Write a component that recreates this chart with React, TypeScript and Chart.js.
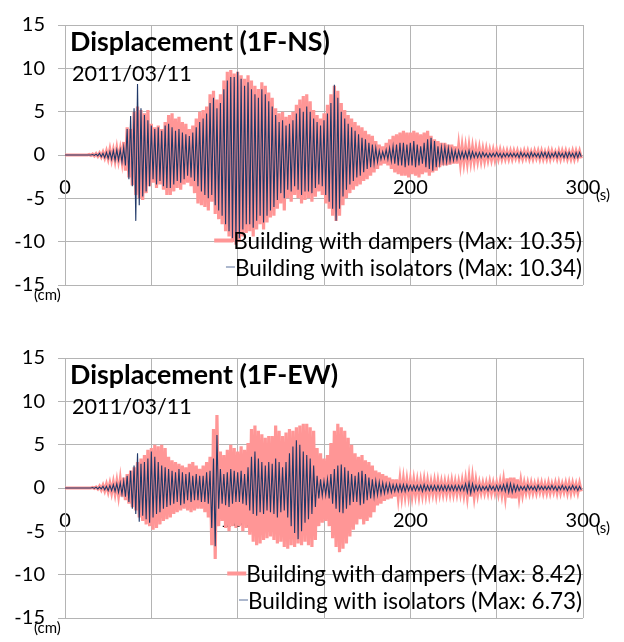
import { useEffect, useRef } from 'react';
import { Chart, registerables } from 'chart.js';

Chart.register(...registerables);

const FONT = 'Lato, "Open Sans", sans-serif';

// Axis ranges and labels
const timeMin = 0;
const timeMax = 300;
const timeGridStep = 50;
const timeLabelStep = 100;
const dispMin = -15;
const dispMax = 15;
const dispStep = 5;
const recordDate = '2011/03/11';

// Peak values of each record (cm)
const nsDamperMax = 10.35;
const nsIsolatorMax = 10.34;
const ewDamperMax = 8.42;
const ewIsolatorMax = 6.73;

// Response peaks in cm: positive peaks at t = 0, 2, 4 ... s, negative peaks at t = 1, 3, 5 ... s
const nsDamperPeaks = [
  0, 0, 0, 0, 0, 0, 0, 0.05, 0.1, 0.15,
  0.2, 0.3, 0.4, 0.6, 0.5, 0.7, 0.6, 1.5, 3.2, 3.0,
  5.0, 5.6, 5.2, 4.8, 5.2, 3.6, 3.2, 3.4, 3.0, 3.8,
  4.6, 4.8, 4.2, 4.4, 3.8, 3.6, 3.0, 3.4, 4.2, 5.0,
  5.2, 5.6, 7.0, 7.4, 6.4, 7.0, 8.6, 9.6, 9.8, 9.4,
  9.6, 9.2, 8.8, 9.2, 8.6, 8.0, 7.6, 8.4, 8.0, 7.2,
  6.6, 5.4, 4.8, 5.0, 4.4, 4.6, 5.0, 5.8, 6.4, 6.8,
  7.0, 6.2, 5.2, 4.6, 4.2, 4.8, 5.8, 7.0, 8.0, 7.4,
  6.0, 5.2, 4.6, 4.2, 3.8, 3.4, 3.2, 2.8, 2.4, 2.2,
  1.6, 1.2, 1.0, 1.4, 1.8, 2.2, 2.4, 2.6, 2.8, 2.6,
  2.6, 2.8, 2.6, 2.4, 2.6, 2.8, 2.2, 1.8, 1.6, 1.4,
  1.4, 1.2, 1.2, 1.0, 1.0, 0.9, 0.8, 0.9, 0.8, 0.7,
  0.7, 0.6, 0.6, 0.5, 0.5, 0.5, 0.5, 0.4, 0.4, 0.4,
  0.4, 0.4, 0.3, 0.4, 0.4, 0.3, 0.4, 0.4, 0.4, 0.3,
  0.4, 0.4, 0.3, 0.4, 0.4, 0.4, 0.3, 0.4, 0.4, 0.4,
];
const nsDamperTroughs = [
  0, 0, 0, 0, 0, 0, 0, -0.05, -0.1, -0.15,
  -0.2, -0.3, -0.4, -0.5, -0.6, -0.6, -0.7, -1.8, -2.6, -3.5,
  -4.6, -5.0, -5.2, -4.4, -3.6, -3.2, -3.8, -3.4, -4.0, -4.6,
  -4.6, -4.2, -3.8, -4.0, -3.4, -3.2, -3.6, -4.4, -5.6, -5.8,
  -6.0, -6.4, -5.4, -6.8, -7.4, -8.0, -8.8, -9.4, -10.0, -nsDamperMax,
  -10.0, -9.4, -9.0, -8.8, -9.4, -8.6, -8.0, -8.6, -7.8, -7.2,
  -7.0, -6.2, -5.6, -6.4, -5.0, -5.4, -4.6, -5.0, -5.6, -5.2,
  -5.0, -5.4, -4.8, -4.2, -4.6, -5.6, -6.2, -7.0, -7.6, -7.0,
  -5.8, -5.0, -4.4, -4.0, -3.6, -3.4, -3.0, -2.8, -2.4, -2.0,
  -1.6, -1.2, -1.0, -1.2, -1.6, -2.0, -2.2, -2.4, -2.4, -2.6,
  -2.2, -2.4, -2.6, -2.2, -2.0, -2.4, -2.0, -1.8, -1.4, -1.2,
  -1.2, -1.1, -1.0, -1.0, -0.9, -0.8, -0.8, -0.7, -0.7, -0.6,
  -0.6, -0.6, -0.5, -0.5, -0.5, -0.4, -0.4, -0.4, -0.4, -0.4,
  -0.3, -0.4, -0.4, -0.3, -0.4, -0.4, -0.3, -0.4, -0.4, -0.4,
  -0.4, -0.3, -0.4, -0.4, -0.3, -0.4, -0.4, -0.4, -0.3, -0.4,
];

const nsIsolatorPeaks = [
  0, 0, 0, 0, 0, 0, 0, 0, 0.05, 0.1,
  0.2, 0.2, 0.3, 0.4, 0.5, 0.6, 0.6, 0.9, 3.0, 4.5,
  5.4, 8.2, 5.4, 4.6, 4.0, 3.4, 3.0, 3.2, 2.8, 3.4,
  3.6, 3.2, 2.8, 3.0, 2.6, 2.4, 2.2, 2.6, 3.2, 3.8,
  4.2, 4.8, 6.0, 6.6, 5.4, 6.0, 7.6, 8.6, 9.0, 9.0,
  9.6, 8.8, 8.0, 8.4, 7.6, 7.0, 6.6, 7.6, 7.0, 6.2,
  5.6, 4.6, 3.8, 4.0, 3.4, 3.6, 4.0, 4.8, 5.4, 5.0,
  5.6, 5.0, 4.2, 3.8, 3.4, 4.0, 4.8, 6.0, 8.1, 6.6,
  5.0, 4.2, 3.6, 3.2, 2.8, 2.4, 2.0, 1.8, 1.4, 1.2,
  0.8, 0.5, 0.4, 0.6, 0.8, 1.0, 1.2, 1.4, 1.4, 1.2,
  1.4, 1.6, 1.2, 1.0, 1.4, 1.8, 2.0, 1.6, 1.0, 0.9,
  0.9, 0.8, 0.6, 0.5, 0.5, 0.4, 0.4, 0.5, 0.4, 0.3,
  0.3, 0.3, 0.2, 0.2, 0.2, 0.3, 0.2, 0.2, 0.2, 0.2,
  0.2, 0.2, 0.3, 0.2, 0.2, 0.3, 0.2, 0.2, 0.3, 0.3,
  0.3, 0.2, 0.3, 0.3, 0.2, 0.3, 0.3, 0.2, 0.3, 0.3,
];
const nsIsolatorTroughs = [
  0, 0, 0, 0, 0, 0, 0, 0, -0.05, -0.1,
  -0.2, -0.3, -0.4, -0.5, -0.6, -0.6, -0.8, -1.2, -2.8, -3.6,
  -7.6, -5.8, -4.8, -4.2, -3.6, -2.8, -3.4, -3.0, -3.6, -3.8,
  -3.8, -3.4, -3.0, -3.2, -2.8, -2.4, -2.6, -3.0, -3.6, -4.2,
  -4.6, -5.0, -4.6, -5.8, -6.4, -7.0, -8.0, -8.8, -9.6, -nsIsolatorMax,
  -9.6, -8.6, -8.0, -8.0, -8.4, -7.6, -7.0, -7.8, -7.0, -6.4,
  -6.0, -5.2, -4.4, -5.0, -4.0, -4.2, -3.6, -4.0, -4.6, -4.2,
  -4.2, -4.4, -3.8, -3.4, -3.6, -4.6, -5.4, -6.2, -7.6, -6.2,
  -4.8, -4.0, -3.4, -3.0, -2.6, -2.4, -2.0, -1.6, -1.4, -1.0,
  -0.8, -0.5, -0.4, -0.5, -0.7, -1.0, -1.2, -1.2, -1.4, -1.2,
  -1.2, -1.4, -1.2, -1.0, -1.4, -1.6, -1.8, -1.4, -1.0, -0.8,
  -0.8, -0.7, -0.6, -0.5, -0.4, -0.4, -0.4, -0.4, -0.3, -0.3,
  -0.3, -0.2, -0.3, -0.2, -0.2, -0.2, -0.3, -0.2, -0.2, -0.2,
  -0.2, -0.3, -0.2, -0.2, -0.3, -0.2, -0.2, -0.3, -0.2, -0.3,
  -0.3, -0.2, -0.3, -0.2, -0.3, -0.3, -0.2, -0.3, -0.3, -0.2,
];

const ewDamperPeaks = [
  0, 0, 0, 0, 0, 0, 0, 0, 0.05, 0.1,
  0.2, 0.3, 0.4, 0.5, 0.6, 0.7, 0.9, 1.2, 1.6, 2.0,
  2.4, 3.0, 3.4, 3.8, 4.4, 4.6, 5.0, 4.8, 5.0, 4.6,
  3.6, 3.2, 3.0, 2.8, 2.6, 2.4, 2.8, 3.0, 2.6, 2.2,
  2.6, 3.0, 3.6, 6.8, ewDamperMax, 4.2, 3.8, 4.4, 5.0, 4.6,
  4.2, 4.8, 4.4, 5.2, 6.8, 7.2, 6.6, 6.2, 5.8, 6.0,
  6.0, 7.2, 6.6, 6.0, 6.4, 6.8, 6.6, 7.0, 7.2, 7.4,
  7.4, 7.0, 6.6, 4.6, 4.0, 3.4, 3.8, 5.2, 6.6, 7.4,
  7.0, 6.6, 5.8, 5.0, 4.0, 3.6, 3.8, 3.2, 3.0, 2.6,
  2.0, 1.8, 1.6, 1.4, 1.2, 1.0, 1.0, 0.9, 0.9, 0.8,
  0.8, 0.8, 0.7, 0.7, 0.8, 0.7, 0.6, 0.7, 0.7, 0.6,
  0.6, 0.6, 0.7, 0.6, 0.6, 0.7, 0.8, 1.0, 1.0, 0.7,
  0.5, 0.5, 0.5, 0.6, 0.5, 0.5, 0.6, 0.8, 1.1, 1.2,
  1.2, 1.0, 0.7, 0.5, 0.5, 0.5, 0.4, 0.5, 0.5, 0.4,
  0.5, 0.4, 0.5, 0.5, 0.4, 0.5, 0.5, 0.5, 0.4, 0.5,
];
const ewDamperTroughs = [
  0, 0, 0, 0, 0, 0, 0, 0, -0.05, -0.1,
  -0.2, -0.3, -0.4, -0.5, -0.6, -0.8, -1.0, -1.4, -1.8, -2.2,
  -2.6, -3.4, -3.8, -4.2, -4.4, -4.8, -4.6, -4.2, -3.8, -3.6,
  -3.4, -3.0, -2.8, -2.6, -2.4, -2.6, -2.8, -2.6, -2.4, -2.4,
  -2.8, -3.4, -6.6, -8.2, -4.4, -3.8, -4.6, -5.0, -4.4, -4.6,
  -4.4, -5.0, -4.6, -5.4, -6.2, -6.6, -6.4, -6.0, -5.8, -5.6,
  -6.0, -6.4, -6.2, -6.8, -7.0, -6.6, -6.8, -6.4, -6.6, -6.2,
  -6.6, -6.8, -6.0, -4.4, -4.0, -3.8, -4.4, -5.8, -6.8, -7.4,
  -7.0, -6.4, -5.6, -4.8, -4.2, -3.6, -4.2, -3.8, -3.4, -2.8,
  -2.0, -1.8, -1.5, -1.3, -1.2, -1.0, -1.0, -0.9, -0.8, -0.8,
  -0.8, -0.7, -0.8, -0.7, -0.7, -0.7, -0.6, -0.7, -0.6, -0.6,
  -0.6, -0.6, -0.6, -0.6, -0.6, -0.7, -0.9, -1.0, -0.9, -0.7,
  -0.5, -0.5, -0.5, -0.5, -0.5, -0.6, -0.7, -0.9, -1.1, -1.2,
  -1.2, -0.9, -0.7, -0.5, -0.5, -0.5, -0.5, -0.4, -0.5, -0.5,
  -0.5, -0.4, -0.5, -0.5, -0.4, -0.5, -0.5, -0.4, -0.5, -0.4,
];

const ewIsolatorPeaks = [
  0, 0, 0, 0, 0, 0, 0, 0, 0.05, 0.1,
  0.1, 0.2, 0.2, 0.3, 0.4, 0.5, 0.6, 0.8, 1.4, 2.0,
  2.6, 4.0, 2.8, 3.0, 3.4, 4.2, 3.6, 3.0, 2.6, 2.4,
  2.2, 2.0, 1.8, 2.2, 1.8, 1.6, 1.8, 1.4, 1.6, 1.4,
  1.4, 1.8, 2.0, 3.4, 6.1, 2.2, 1.6, 1.8, 2.2, 2.0,
  1.8, 2.0, 1.6, 2.4, 3.6, 4.2, 3.4, 3.0, 2.6, 3.0,
  2.8, 3.4, 3.0, 2.4, 3.0, 4.0, 4.8, 5.5, 5.0, 4.2,
  3.8, 3.4, 2.6, 1.4, 1.0, 0.8, 1.0, 1.6, 2.2, 2.6,
  2.7, 2.4, 2.0, 1.6, 1.4, 1.8, 2.0, 1.6, 1.2, 1.0,
  0.8, 0.7, 0.6, 0.5, 0.5, 0.4, 0.4, 0.4, 0.4, 0.4,
  0.3, 0.3, 0.3, 0.3, 0.4, 0.3, 0.3, 0.3, 0.3, 0.3,
  0.3, 0.3, 0.3, 0.3, 0.3, 0.3, 0.5, 0.6, 0.5, 0.3,
  0.3, 0.2, 0.2, 0.3, 0.2, 0.3, 0.3, 0.4, 0.5, 0.5,
  0.4, 0.3, 0.2, 0.2, 0.3, 0.2, 0.2, 0.3, 0.2, 0.2,
  0.2, 0.3, 0.2, 0.2, 0.3, 0.2, 0.2, 0.3, 0.2, 0.2,
];
const ewIsolatorTroughs = [
  0, 0, 0, 0, 0, 0, 0, 0, -0.05, -0.1,
  -0.1, -0.2, -0.3, -0.3, -0.4, -0.5, -0.7, -1.0, -1.6, -2.4,
  -3.0, -3.9, -3.2, -3.6, -4.0, -3.4, -3.0, -2.8, -2.4, -2.2,
  -2.0, -1.8, -1.6, -2.0, -1.8, -1.4, -1.6, -1.4, -1.4, -1.6,
  -1.6, -1.8, -4.6, -ewIsolatorMax, -2.4, -1.8, -2.0, -2.2, -1.8, -1.6,
  -1.6, -1.8, -2.0, -2.6, -3.0, -3.2, -2.8, -3.0, -2.6, -2.8,
  -3.0, -3.4, -2.8, -2.6, -3.4, -4.4, -5.2, -5.9, -5.0, -4.0,
  -3.6, -3.0, -2.2, -1.2, -0.9, -0.8, -1.2, -1.8, -2.4, -2.8,
  -2.9, -2.4, -2.0, -1.6, -1.6, -2.0, -1.8, -1.4, -1.2, -1.0,
  -0.8, -0.7, -0.6, -0.5, -0.5, -0.4, -0.4, -0.4, -0.4, -0.3,
  -0.3, -0.3, -0.3, -0.4, -0.3, -0.3, -0.3, -0.3, -0.3, -0.3,
  -0.3, -0.3, -0.3, -0.3, -0.3, -0.3, -0.5, -0.6, -0.4, -0.3,
  -0.3, -0.2, -0.3, -0.2, -0.3, -0.3, -0.3, -0.4, -0.5, -0.5,
  -0.4, -0.3, -0.2, -0.3, -0.2, -0.2, -0.3, -0.2, -0.2, -0.2,
  -0.2, -0.2, -0.3, -0.2, -0.2, -0.3, -0.2, -0.2, -0.3, -0.2,
];

const DAMPER_COLOR = '#FF9696';
const ISOLATOR_COLOR = '#1F3868';
const ISOLATOR_KEY_COLOR = '#5B719B';
const GRID_COLOR = '#B4B4B4';

type Pt = { x: number; y: number };

// Interleave positive and negative peaks into one time trace
function toTrace(peaks: number[], troughs: number[]): Pt[] {
  const pts: Pt[] = [];
  peaks.forEach((p, i) => {
    pts.push({ x: 2 * i, y: p });
    pts.push({ x: 2 * i + 1, y: troughs[i] });
  });
  return pts;
}

type PanelDef = {
  title: string;
  damperLabel: string;
  isolatorLabel: string;
  damper: Pt[];
  isolator: Pt[];
};

const panels: PanelDef[] = [
  {
    title: 'Displacement (1F-NS)',
    damperLabel: `Building with dampers (Max: ${nsDamperMax.toFixed(2)})`,
    isolatorLabel: `Building with isolators (Max: ${nsIsolatorMax.toFixed(2)})`,
    damper: toTrace(nsDamperPeaks, nsDamperTroughs),
    isolator: toTrace(nsIsolatorPeaks, nsIsolatorTroughs),
  },
  {
    title: 'Displacement (1F-EW)',
    damperLabel: `Building with dampers (Max: ${ewDamperMax.toFixed(2)})`,
    isolatorLabel: `Building with isolators (Max: ${ewIsolatorMax.toFixed(2)})`,
    damper: toTrace(ewDamperPeaks, ewDamperTroughs),
    isolator: toTrace(ewIsolatorPeaks, ewIsolatorTroughs),
  },
];

// Font size that makes `text` span `width` pixels
function fitSize(ctx: CanvasRenderingContext2D, text: string, weight: string, width: number) {
  ctx.font = `${weight} 100px ${FONT}`;
  return (100 * width) / ctx.measureText(text).width;
}

function panelTextPlugin(panel: PanelDef) {
  return {
    id: 'panelText',
    afterDraw(chart: any) {
      const { ctx, chartArea: a } = chart;
      const ys = chart.scales.y;
      const xs = chart.scales.x;
      ctx.save();
      ctx.fillStyle = '#000';
      ctx.textBaseline = 'alphabetic';
      ctx.textAlign = 'left';

      // heading and date
      const titleSize = fitSize(ctx, 'Displacement (1F-NS)', 'bold', 260);
      ctx.font = `bold ${titleSize}px ${FONT}`;
      ctx.fillText(panel.title, a.left + 5, a.top + 26);
      const dateSize = fitSize(ctx, recordDate, 'normal', 120);
      ctx.font = `normal ${dateSize}px ${FONT}`;
      ctx.fillText(recordDate, a.left + 7, a.top + 56);

      // units
      ctx.font = `15px ${FONT}`;
      ctx.fillText('(s)', xs.right + 13, ys.getPixelForValue(0) + 45);
      ctx.fillText('(cm)', 34, a.bottom + 15);

      // legend
      const legendSize = fitSize(ctx, 'Building with dampers (Max: 10.35)', 'normal', 349);
      ctx.font = `normal ${legendSize}px ${FONT}`;
      const rows = [
        { label: chart.data.datasets[0].label, color: DAMPER_COLOR, lw: 4, len: 19 },
        { label: chart.data.datasets[1].label, color: ISOLATOR_KEY_COLOR, lw: 1, len: 9 },
      ];
      rows.forEach((r, k) => {
        const base = a.bottom - 36 + k * 26.5;
        const w = ctx.measureText(r.label).width;
        const x0 = a.right - 1 - w;
        ctx.fillStyle = '#000';
        ctx.fillText(r.label, x0, base);
        ctx.strokeStyle = r.color;
        ctx.lineWidth = r.lw;
        ctx.beginPath();
        ctx.moveTo(x0 - r.len, base - 8.5);
        ctx.lineTo(x0, base - 8.5);
        ctx.stroke();
      });
      ctx.restore();
    },
  };
}

function Panel({ panel, top }: { panel: PanelDef; top: number }) {
  const ref = useRef<HTMLCanvasElement>(null);
  useEffect(() => {
    const tickFont = { family: FONT, size: 20 };
    const chart = new Chart(ref.current!, {
      type: 'line',
      data: {
        datasets: [
          {
            label: panel.damperLabel,
            data: panel.damper,
            borderColor: DAMPER_COLOR,
            borderWidth: 3.2,
            pointRadius: 0,
            tension: 0,
            order: 1,
          },
          {
            label: panel.isolatorLabel,
            data: panel.isolator,
            borderColor: ISOLATOR_COLOR,
            borderWidth: 1.1,
            pointRadius: 0,
            tension: 0,
            order: 0,
          },
        ],
      },
      options: {
        animation: false,
        responsive: false,
        devicePixelRatio: 1,
        layout: { padding: { left: 0, right: 41, top: 22, bottom: 21 } },
        plugins: {
          legend: { display: false },
          tooltip: { enabled: false },
        },
        scales: {
          x: {
            type: 'linear',
            min: timeMin,
            max: timeMax,
            position: { y: 0 },
            ticks: {
              stepSize: timeGridStep,
              autoSkip: false,
              maxRotation: 0,
              color: '#000',
              font: tickFont,
              padding: 21,
              callback: (v: any) => (Number(v) % timeLabelStep === 0 ? String(v) : ''),
            },
            grid: { color: GRID_COLOR, drawTicks: false },
            border: { display: false },
            afterFit: (s: any) => {
              s.height = 0;
              s.paddingLeft = 0;
              s.paddingRight = 0;
            },
          },
          y: {
            type: 'linear',
            min: dispMin,
            max: dispMax,
            ticks: { stepSize: dispStep, color: '#000', font: tickFont, padding: 13 },
            grid: { color: GRID_COLOR, tickLength: 7 },
            border: { color: GRID_COLOR },
            afterFit: (s: any) => {
              s.width = 65;
            },
          },
        },
      } as any,
      plugins: [panelTextPlugin(panel)],
    });
    return () => chart.destroy();
  }, [panel]);
  return (
    <canvas
      ref={ref}
      width={624}
      height={310}
      style={{ position: 'absolute', left: 0, top, width: 624, height: 310 }}
    />
  );
}

export default function App() {
  return (
    <div
      style={{
        position: 'fixed',
        left: 0,
        top: 0,
        width: 624,
        height: 642,
        background: '#fff',
        overflow: 'hidden',
      }}
    >
      <Panel panel={panels[0]} top={0} />
      <Panel panel={panels[1]} top={333} />
    </div>
  );
}
